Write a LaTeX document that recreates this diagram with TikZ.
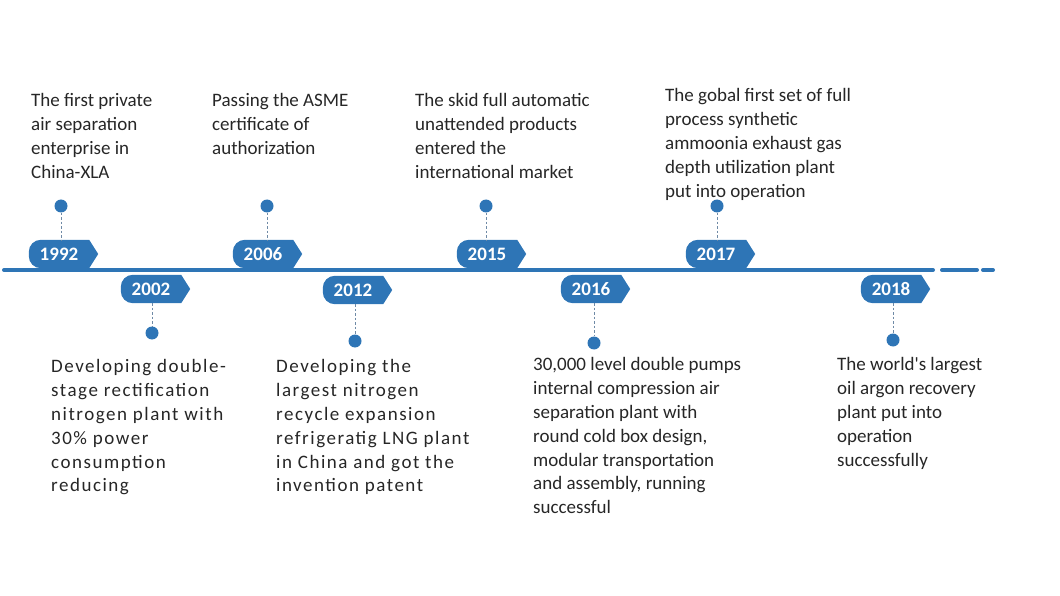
\documentclass[tikz,border=0pt]{standalone}
\usepackage{fontspec}
\setmainfont{Carlito}
\newfontfamily\spaced[LetterSpace=8]{Carlito}
\usepackage{tikz}
\usetikzlibrary{calc,backgrounds}
\definecolor{tagblue}{HTML}{2E75B6}
\definecolor{ink}{HTML}{262626}
\definecolor{dashgrey}{HTML}{6F8AA6}
\tikzset{
  tag/.style={rectangle, text=white, minimum width=60pt, minimum height=28pt, inner sep=0pt,
              font=\fontsize{19}{24}\selectfont\bfseries},
  dot/.style={circle, fill=tagblue, minimum size=13pt, inner sep=0pt},
  link/.style={draw=dashgrey, line width=0.8pt, dash pattern=on 2.5pt off 2pt},
  axis/.style={draw=tagblue, line width=4pt, line cap=round},
  note/.style={anchor=north west, align=left, inner sep=0pt, text=ink,
               font=\fontsize{19}{23.8}\selectfont},
  notesp/.style={note, font=\fontsize{19}{23.8}\selectfont\spaced}
}
% year tag: rounded on the left, pointed on the right
\newcommand\yeartag[3]{%
  \node[tag] (#1) at (#2) {#3};
  \begin{scope}[on background layer]
   \fill[tagblue] ([xshift=9pt]#1.east) -- (#1.north east) [rounded corners=12pt]
     -- (#1.north west) -- (#1.south west) [sharp corners] -- (#1.south east) -- cycle;
  \end{scope}}
\begin{document}
\begin{tikzpicture}[x=1pt, y=-1pt]
 \useasboundingbox (0,0) rectangle (1060,596);
 % time axis
 \coordinate (ax0) at (4,270); \coordinate (ax1) at (933,270);
 \coordinate (ax2) at (942,270); \coordinate (ax3) at (977,270);
 \coordinate (ax4) at (983,270); \coordinate (ax5) at (993,270);
 \draw[axis] (ax0) -- (ax1); \draw[axis] (ax2) -- (ax3); \draw[axis] (ax4) -- (ax5);
 % years above
 \yeartag{t1992}{59,254}{1992}
 \yeartag{t2006}{263,254}{2006}
 \yeartag{t2015}{487,254}{2015}
 \yeartag{t2017}{716,254}{2017}
 \node[dot] (d1992) at (61,206) {};
 \node[dot] (d2006) at (267,206) {};
 \node[dot] (d2015) at (486,206) {};
 \node[dot] (d2017) at (717,206) {};
 \draw[link] (d1992) -- (d1992 |- t1992.north);
 \draw[link] (d2006) -- (d2006 |- t2006.north);
 \draw[link] (d2015) -- (d2015 |- t2015.north);
 \draw[link] (d2017) -- (d2017 |- t2017.north);
 % years below
 \yeartag{t2002}{151,289}{2002}
 \yeartag{t2012}{353,290}{2012}
 \yeartag{t2016}{591,289}{2016}
 \yeartag{t2018}{891,289}{2018}
 \node[dot] (d2002) at (152,333) {};
 \node[dot] (d2012) at (355,341) {};
 \node[dot] (d2016) at (594,343) {};
 \node[dot] (d2018) at (893,340) {};
 \draw[link] (d2002 |- t2002.south) -- (d2002);
 \draw[link] (d2012 |- t2012.south) -- (d2012);
 \draw[link] (d2016 |- t2016.south) -- (d2016);
 \draw[link] (d2018 |- t2018.south) -- (d2018);
 % texts
 \node[note] (n1992) at (31,93.5) {The first private\\air separation\\enterprise in\\China-XLA};
 \node[note] (n2006) at (212,93.5) {Passing the ASME\\certificate of\\authorization};
 \node[note] (n2015) at (415,93.5) {The skid full automatic\\unattended products\\entered the\\international market};
 \node[note] (n2017) at (665,88.5) {The gobal first set of full\\process synthetic\\ammoonia exhaust gas\\depth utilization plant\\put into operation};
 \node[notesp] (n2002) at (51,359.5) {Developing double-\\stage rectification\\nitrogen plant with\\30\% power\\consumption\\reducing};
 \node[notesp] (n2012) at (276,359.5) {Developing the\\largest nitrogen\\recycle expansion\\refrigeratig LNG plant\\in China and got the\\invention patent};
 \node[note] (n2016) at (533,357.5) {30,000 level double pumps\\internal compression air\\separation plant with\\round cold box design,\\modular transportation\\and assembly, running\\successful};
 \node[note] (n2018) at (837,357.5) {The world\textquotesingle s largest\\oil argon recovery\\plant put into\\operation\\successfully};
\end{tikzpicture}
\end{document}
